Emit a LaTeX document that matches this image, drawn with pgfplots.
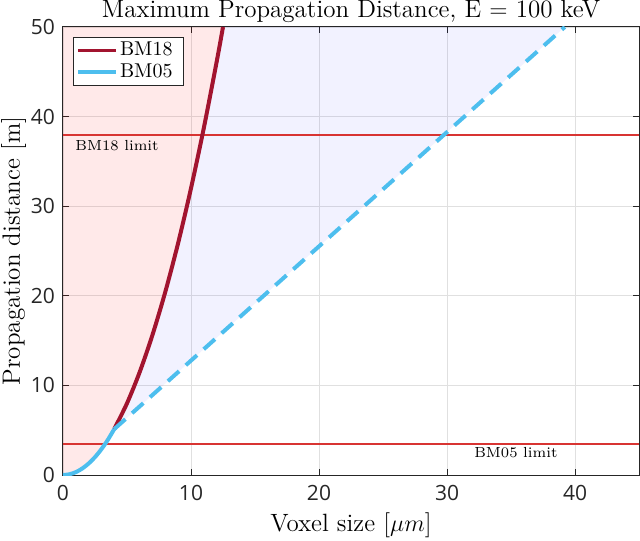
\documentclass[border=0pt]{standalone}
\usepackage{fontspec}
\usepackage{pgfplots}
\pgfplotsset{compat=1.18}
\newfontfamily\opensans{Open Sans}
\definecolor{bmred}{RGB}{162,20,47}
\definecolor{bmblue}{RGB}{77,190,238}
\definecolor{limred}{RGB}{216,52,50}
\definecolor{axgray}{RGB}{38,38,38}
\begin{document}
\begin{tikzpicture}
\begin{axis}[
  name=ax,
  scale only axis,
  width=288pt, height=224pt,
  xmin=0, xmax=45, ymin=0, ymax=50,
  xtick={0,10,20,30,40}, ytick={0,10,20,30,40,50},
  tick align=inside,
  xtick pos=both, ytick pos=both,
  major tick length=3pt,
  grid=major,
  major grid style={draw=black!12, line width=0.4pt},
  axis line style={draw=axgray, line width=0.5pt},
  every tick/.style={draw=axgray, line width=0.5pt},
  /pgf/number format/assume math mode=true,
  tick label style={font=\opensans\fontsize{10.5}{12}\selectfont, text=axgray},
  xticklabel style={yshift=-1.5pt},
  yticklabel style={xshift=-0.5pt},
  title={Maximum Propagation Distance, E $=$ 100 keV},
  title style={font=\fontsize{12.5}{14}\selectfont, at={(axis description cs:0.5,1)}, anchor=base, yshift=-1.1pt},
  xlabel={Voxel size [$\mu m$]},
  ylabel={Propagation distance [m]},
  label style={font=\fontsize{12.5}{14}\selectfont},
  xlabel style={at={(axis description cs:0.5,0)}, anchor=base, yshift=-28pt},
  ylabel style={at={(axis description cs:0,0.5)}, anchor=base, yshift=21.5pt},
  legend style={at={(0.0174,0.978)}, anchor=north west, draw=axgray, line width=0.4pt,
    font=\fontsize{10}{11}\selectfont, inner xsep=1.5pt, inner ysep=0.5pt, row sep=-1.5pt,
    nodes={inner xsep=1pt, text width=29pt}},
  legend cell align=left,
  legend image code/.code={\draw[#1, line width=1.8pt] (0pt,0pt) -- (19pt,0pt);},
]
% pink region
\addplot[draw=none, fill=red, fill opacity=0.085, forget plot] coordinates {
(0,0) (0.5,0.08) (1,0.32) (1.5,0.72) (2,1.28) (2.5,2.0) (3,2.88) (3.5,3.92) (4,5.12)
(5,8.0) (6,11.52) (7,15.68) (8,20.48) (9,25.92) (10,32.0) (11,38.72) (12,46.08) (12.5,50)
(0,50)} -- cycle;
% lavender region
\addplot[draw=none, fill=blue, fill opacity=0.05, forget plot] coordinates {
(4,5.12) (5,8.0) (6,11.52) (7,15.68) (8,20.48) (9,25.92) (10,32.0) (11,38.72) (12,46.08) (12.5,50)
(39.2,50)} -- cycle;
% limits
\addplot[limred, line width=1pt, forget plot] coordinates {(0,38) (45,38)};
\addplot[limred, line width=1pt, forget plot] coordinates {(0,3.5) (45,3.5)};
% BM18
\addplot[bmred, line width=2pt, smooth] coordinates {
(4,5.12) (5,8.0) (6,11.52) (7,15.68) (8,20.48) (9,25.92) (10,32.0) (11,38.72) (12,46.08) (12.5,50)};
\addlegendentry{BM18}
% BM05
\addplot[bmblue, line width=2pt, smooth] coordinates {
(0,0) (0.5,0.08) (1,0.32) (1.5,0.72) (2,1.28) (2.5,2.0) (3,2.88) (3.5,3.92) (4,5.12)};
\addlegendentry{BM05}
\addplot[bmblue, line width=2pt, dash pattern=on 7.5pt off 4.5pt, forget plot] coordinates {
(4,5.12) (39.2,50)};
\node[anchor=base west, font=\fontsize{7.3}{9}\selectfont, inner sep=0pt] at (axis cs:0.94,36.2) {BM18 limit};
\node[anchor=base west, font=\fontsize{7.3}{9}\selectfont, inner sep=0pt] at (axis cs:32.1,2.0) {BM05 limit};
\end{axis}
\pgfresetboundingbox
\path[use as bounding box] ([shift={(-31.5pt,-32.5pt)}]ax.south west) rectangle ([shift={(0.5pt,13.5pt)}]ax.north east);
\end{tikzpicture}
\end{document}
